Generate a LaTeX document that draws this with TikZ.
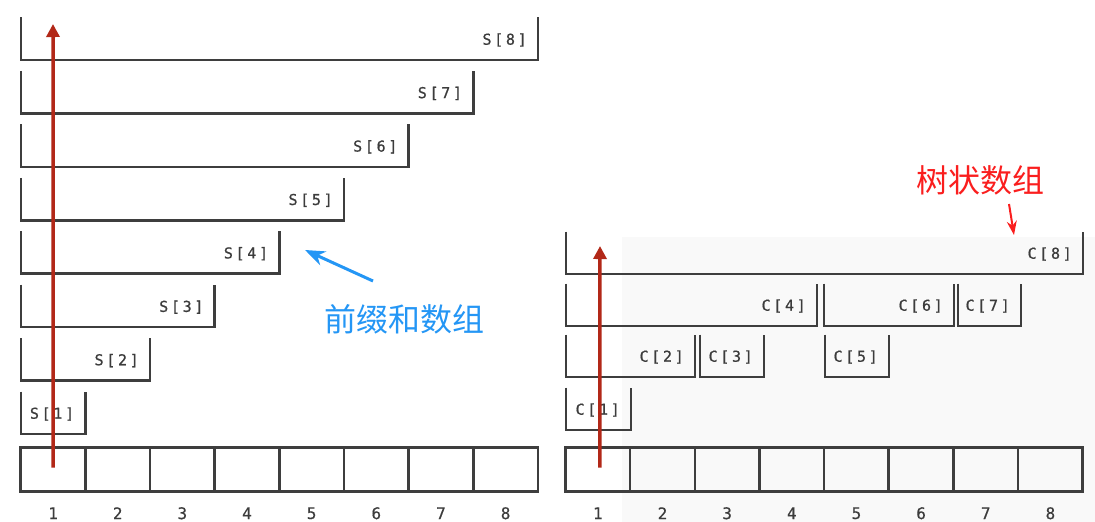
\documentclass[tikz,border=0pt]{standalone}
\usepackage{fontspec}
\newfontfamily\cnfont{Noto Sans CJK SC}
\newfontfamily\labfont[LetterSpace=18,FakeBold=0.8]{DejaVu Sans Mono}
\newfontfamily\numfont[FakeBold=0.5]{DejaVu Sans Mono}
\usetikzlibrary{arrows.meta}
\definecolor{inkgray}{RGB}{62,62,62}
\definecolor{labgray}{RGB}{60,60,60}
\definecolor{sumred}{RGB}{178,40,24}
\definecolor{hintblue}{RGB}{36,150,245}
\definecolor{hintred}{RGB}{250,30,30}
\begin{document}
\begin{tikzpicture}[x=1pt,y=-1pt,
		cell/.style={draw=inkgray,line width=2.6pt,minimum width=64.65pt,minimum height=43.5pt,inner sep=0pt,outer sep=0pt},
		num/.style={text=labgray,font=\numfont\fontsize{16}{18}\selectfont},
		bracket/.style={draw=inkgray,line width=2.6pt},
		lab/.style={anchor=east,inner sep=0pt,text=labgray,font=\labfont\fontsize{15}{18}\selectfont},
		sumarrow/.style={draw=sumred,line width=3.5pt,-{Triangle[length=13pt,width=13pt]}},
		hint/.style={line width=3pt,-{Stealth[length=20pt,width=15pt]}}]
\useasboundingbox (0,0) rectangle (1095,522);
\fill[gray!5] (622,237) rectangle (1095,522);
% prefix sum array
\foreach \i in {1,...,8} {
	\node[cell] (l\i) at (20.7+64.65*\i-32.3,469.5) {};
	\node[num] (ln\i) at ([yshift=-22pt]l\i.south) {\i};
}
\foreach \k in {1,...,8} {
	\pgfmathsetmacro\xr{20.7+64.65*\k}
	\pgfmathsetmacro\yb{434-53.43*(\k-1)}
	\draw[bracket] (21,\yb-42.5) |- (\xr,\yb) -- (\xr,\yb-42.5);
	\node[lab] (s\k) at (\xr-11,\yb-20) {S[\k]};
}
\coordinate (stop) at (53,24);
\draw[sumarrow] ([yshift=2pt]l1.center) -- (stop);
% tree array
\foreach \i in {1,...,8} {
	\node[cell] (r\i) at (565.5+64.65*\i-32.3,469.5) {};
	\node[num] (rn\i) at ([yshift=-22pt]r\i.south) {\i};
}
\foreach \k/\xa/\xb/\yb in {1/566/631/430,2/566/695/377,3/700/764/377,4/566/817/326,
		5/825/889/377,6/824/954/326,7/958/1021/326,8/566/1083/274} {
	\draw[bracket] (\xa,\yb-42.5) |- (\xb,\yb) -- (\xb,\yb-42.5);
	\node[lab] (c\k) at (\xb-11,\yb-20) {C[\k]};
}
\coordinate (ctop) at (600,246);
\draw[sumarrow] ([xshift=2pt,yshift=2pt]r1.center) -- (ctop);
% notes
\node[text=hintblue,font=\cnfont\fontsize{32}{36}\selectfont] (prefix) at (404,319) {前缀和数组};
\coordinate (ptail) at (373,281);
\coordinate (ptip) at (305,250);
\draw[hint,draw=hintblue,fill=hintblue] (ptail) -- (ptip);
\node[text=hintred,font=\cnfont\fontsize{32}{36}\selectfont] (tree) at (980,180) {树状数组};
\coordinate (ttail) at (1009,204);
\coordinate (ttip) at (1014,235);
\draw[draw=hintred,line width=2pt,-{Stealth[length=14pt,width=10pt]}] (ttail) -- (ttip);
\end{tikzpicture}
\end{document}
